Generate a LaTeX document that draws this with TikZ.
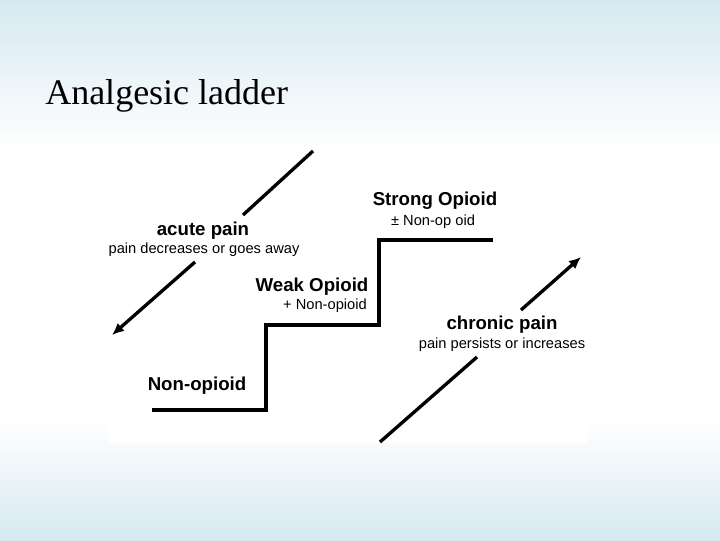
\documentclass[tikz,border=0pt]{standalone}
\usepackage{fontspec}
\setmainfont{Liberation Serif}
\newfontfamily\sans{Liberation Sans}
\begin{document}
\begin{tikzpicture}[x=0.75pt,y=-0.75pt,
  big/.style={font=\sans\bfseries\fontsize{14}{16}\selectfont,inner sep=0},
  small/.style={font=\sans\fontsize{11}{13}\selectfont,inner sep=0},
  thick line/.style={line width=3pt},
  arr/.style={line width=2.5pt,-{Latex[length=9pt,width=8pt]}}]
\usetikzlibrary{arrows.meta}
\useasboundingbox (0,0) rectangle (720,540);
\shade[top color={rgb,255:red,214;green,233;blue,241},bottom color=white] (0,0) rectangle (720,150);
\shade[top color=white,bottom color={rgb,255:red,214;green,233;blue,241}] (0,420) rectangle (720,540);
\node[anchor=base west,inner sep=0,font=\fontsize{27}{30}\selectfont] (title) at (45,104) {Analgesic ladder};
\fill[white] (108,150) rectangle (588,443);
\coordinate (s0) at (152,410); \coordinate (s1) at (266,410); \coordinate (s2) at (266,325);
\coordinate (s3) at (379,325); \coordinate (s4) at (379,240); \coordinate (s5) at (493,240);
\draw[thick line] (s0) -- (s1) -- (s2) -- (s3) -- (s4) -- (s5);
\coordinate (a1) at (313,151); \coordinate (a2) at (243,215);
\coordinate (a3) at (195,262); \coordinate (a4) at (112,335);
\draw[line width=2.5pt] (a1) -- (a2);
\draw[arr] (a3) -- (a4);
\coordinate (c1) at (380,442); \coordinate (c2) at (477,357);
\coordinate (c3) at (521,310); \coordinate (c4) at (581,257);
\draw[line width=2.5pt] (c1) -- (c2);
\draw[arr] (c3) -- (c4);
\node[big] (so) at (435,201) {Strong Opioid};
\node[small] (sn) at (433,222) {± Non-op oid};
\node[big] (ap) at (203,231) {acute pain};
\node[small] (apd) at (204,250) {pain decreases or goes away};
\node[big] (wo) at (312,287) {Weak Opioid};
\node[small] (wn) at (325,306) {+ Non-opioid};
\node[big] (cp) at (502,325) {chronic pain};
\node[small] (cpd) at (502,345) {pain persists or increases};
\node[big] (no) at (197,386) {Non-opioid};
\end{tikzpicture}
\end{document}
